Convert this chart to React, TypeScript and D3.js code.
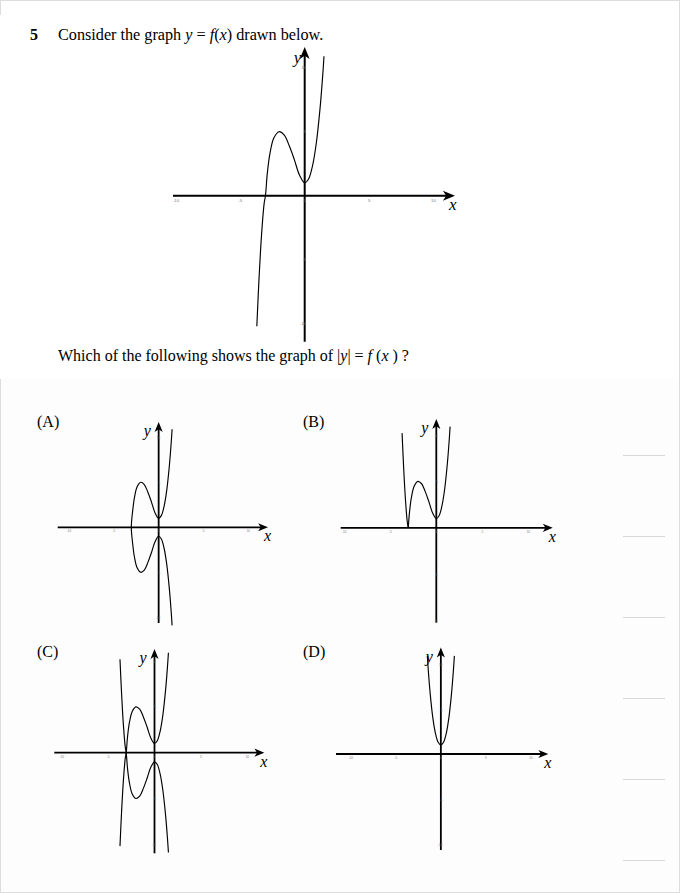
import React from "react";
import * as d3 from "d3";

const fPoints: [number, number][] = [
  [-3.72, -10.2], [-3.55, -6.5], [-3.35, -3.0], [-3.15, -0.6], [-3.05, 0],
  [-2.9, 1.8], [-2.7, 3.3], [-2.4, 4.5], [-2.0, 5.0], [-1.6, 4.75],
  [-1.2, 3.9], [-0.8, 2.8], [-0.4, 1.6], [0, 1.0], [0.3, 1.3],
  [0.6, 2.3], [0.9, 4.1], [1.2, 6.9], [1.4, 9.4], [1.5, 10.9],
];
const xTicks = [-10, -5, 0, 5, 10];
const yTicks = [10, 5, -5, -10];
const optionLabels = ["(A)", "(B)", "(C)", "(D)"];

type Pt = [number, number];

const rootIdx = fPoints.findIndex((p) => p[1] === 0);
const upper = fPoints.slice(rootIdx); // y >= 0 part
const flip = (pts: Pt[]): Pt[] => pts.map(([x, y]) => [x, -y]);

// curves for each panel
const mainCurves: Pt[][] = [fPoints];
const curvesA: Pt[][] = [[...upper].reverse().concat(flip(upper.slice(1)))];
const curvesB: Pt[][] = [flip(fPoints.slice(0, rootIdx + 1)), upper];
const curvesC: Pt[][] = [fPoints, flip(fPoints)];
const rightPart = fPoints.filter((p) => p[0] >= 0);
const curvesD: Pt[][] = [
  rightPart.slice(1).map(([x, y]) => [-x, y] as Pt).reverse().concat(rightPart),
];

interface G {
  x: [number, number]; // px of x=-10, x=10
  y: [number, number]; // px of y=10, y=-10
  ax: [number, number]; // x-axis px extents
  ay: [number, number]; // y-axis px extents (bottom, top)
  curves: Pt[][];
  arrow: number;
  tick: number;
  label?: string;
  lx?: number;
  ly?: number;
}

const graphs: G[] = [
  { x: [176, 433.4], y: [67.7, 323.7], ax: [173, 455], ay: [341.7, 47], curves: mainCurves, arrow: 1.1, tick: 4.2 },
  { x: [69, 248.3], y: [437.3, 617.3], ax: [57.7, 268], ay: [623, 422], curves: curvesA, arrow: 0.9, tick: 3, label: optionLabels[0], lx: 37, ly: 427 },
  { x: [344.3, 528.3], y: [435, 620.7], ax: [340.7, 552.7], ay: [622.7, 419], curves: curvesB, arrow: 0.9, tick: 3, label: optionLabels[1], lx: 303, ly: 427 },
  { x: [61.7, 247.3], y: [661, 844.3], ax: [54.3, 264.3], ay: [853.3, 649], curves: curvesC, arrow: 0.9, tick: 3, label: optionLabels[2], lx: 37, ly: 657 },
  { x: [350.7, 531], y: [664, 844], ax: [336, 548.3], ay: [850, 647.5], curves: curvesD, arrow: 0.9, tick: 3, label: optionLabels[3], lx: 303, ly: 657 },
];

const serif = "'Liberation Serif', 'Times New Roman', serif";

function Graph({ g, i }: { g: G; i: number }) {
  const xs = d3.scaleLinear().domain([-10, 10]).range(g.x);
  const ys = d3.scaleLinear().domain([10, -10]).range(g.y);
  const ox = xs(0);
  const oy = ys(0);
  const line = d3
    .line<Pt>()
    .x((d) => xs(d[0]))
    .y((d) => ys(d[1]))
    .curve(d3.curveCatmullRom.alpha(0.5));
  const s = g.arrow;
  const head = `M0,0 L${-11 * s},${-4.5 * s} L${-8 * s},0 L${-11 * s},${4.5 * s} Z`;
  const main = i === 0;
  return (
    <g>
      {g.label && (
        <text x={g.lx} y={g.ly} fontFamily={serif} fontSize={16}>
          {g.label}
        </text>
      )}
      <line x1={g.ax[0]} x2={g.ax[1] - 6 * s} y1={oy} y2={oy} stroke="#000" strokeWidth={main ? 2 : 1.8} />
      <line x1={ox} x2={ox} y1={g.ay[0]} y2={g.ay[1] + 6 * s} stroke="#000" strokeWidth={main ? 2 : 1.8} />
      <path d={head} transform={`translate(${g.ax[1]},${oy})`} fill="#000" />
      <path d={head} transform={`translate(${ox},${g.ay[1]}) rotate(-90)`} fill="#000" />
      {xTicks.map((t) => (
        <text key={"x" + t} x={xs(t)} y={oy + (main ? 6 : 5)} fontSize={g.tick} fill="#777" textAnchor="middle" fontFamily="Arial, sans-serif">
          {t}
        </text>
      ))}
      {yTicks.map((t) => (
        <text key={"y" + t} x={ox + 1.5} y={ys(t) + 1.5} fontSize={g.tick} fill="#777" textAnchor="end" fontFamily="Arial, sans-serif">
          {t}
        </text>
      ))}
      {g.curves.map((c, k) => (
        <path key={k} d={line(c) || ""} fill="none" stroke="#000" strokeWidth={1.15} />
      ))}
      <text x={ox - (main ? 11 : 15)} y={g.ay[1] + (main ? 16 : 14)} fontFamily={serif} fontStyle="italic" fontSize={main ? 17 : 16}>
        y
      </text>
      <text x={g.ax[1] - (main ? 6 : 4)} y={oy + 14} fontFamily={serif} fontStyle="italic" fontSize={main ? 17 : 16}>
        x
      </text>
    </g>
  );
}

const sideLines = [455, 536, 617, 698, 779, 860];

export default function App() {
  return (
    <svg width={680} height={893} style={{ position: "absolute", left: 0, top: 0 }}>
      <rect x={0} y={0} width={680} height={893} fill="#fff" />
      <rect x={0} y={379} width={680} height={514} fill="#fdfdfd" />
      <line x1={0} x2={680} y1={0.5} y2={0.5} stroke="#ddd" />
      <line x1={679.5} x2={679.5} y1={0} y2={893} stroke="#ddd" />
      <line x1={0.5} x2={0.5} y1={0} y2={15} stroke="#ddd" />
      <line x1={0.5} x2={0.5} y1={379} y2={893} stroke="#ddd" />
      <line x1={0} x2={680} y1={892.5} y2={892.5} stroke="#ddd" />
      {sideLines.map((y) => (
        <line key={y} x1={623} x2={665} y1={y + 0.5} y2={y + 0.5} stroke="#d8d8d8" />
      ))}
      <text x={30} y={40} fontFamily={serif} fontSize={16} fontWeight="bold">5</text>
      <text x={58} y={40} fontFamily={serif} fontSize={16.2}>
        Consider the graph <tspan fontStyle="italic">y</tspan> = <tspan fontStyle="italic">f</tspan>(<tspan fontStyle="italic">x</tspan>) drawn below.
      </text>
      <text x={58} y={361} fontFamily={serif} fontSize={16}>
        Which of the following shows the graph of |<tspan fontStyle="italic">y</tspan>| = <tspan fontStyle="italic">f</tspan> (<tspan fontStyle="italic">x</tspan> ) ?
      </text>
      {graphs.map((g, i) => (
        <Graph key={i} g={g} i={i} />
      ))}
    </svg>
  );
}
